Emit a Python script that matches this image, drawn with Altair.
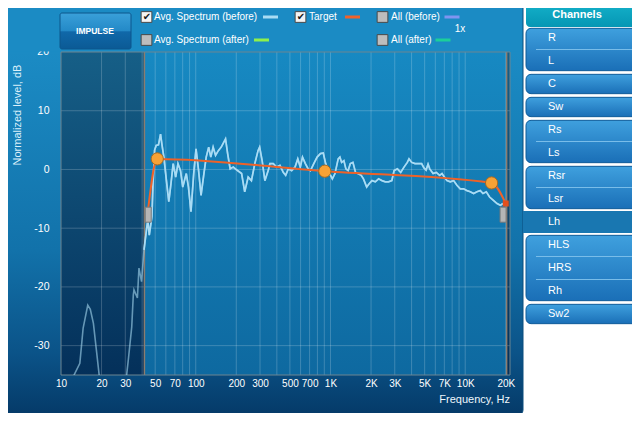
import altair as alt
import pandas as pd

# ---------------- data ----------------
spec_freq = [10, 12.5, 13.8, 14.6, 15.8, 16.5, 17.4, 18.4, 19.2, 20, 30, 30.7, 31.6, 33.5, 34.4, 34.8,
             36.9, 37.9, 39.6, 41.3, 43.2, 44.1, 45.2, 47.3, 48.1, 49.5, 50.9, 52.9, 54.8, 56.0, 58.0,
             60.6, 63.1, 65.5, 68.0, 71.0, 73.8, 77.1, 80.1, 85.1, 88.3, 92.2, 96.6, 100.5, 105, 109.5,
             115, 119.6, 124.8, 129.4, 134.6, 140.3, 147.2, 154.6, 166.4, 172.5, 180, 190, 202, 219,
             231, 245, 259, 274.5, 290, 298, 311, 326, 345, 355, 376, 398, 422, 446, 465, 486, 515,
             546, 572, 597, 620, 651, 683, 710, 752, 796, 843, 884, 921, 975, 1033, 1080, 1141, 1175,
             1210, 1258, 1301, 1352, 1404, 1468, 1535, 1596, 1690, 1757, 1857, 1943, 2033, 2151, 2276,
             2409, 2549, 2697, 2854, 2965, 3138, 3321, 3514, 3719, 3828, 4005, 4238, 4485, 4747, 4930,
             5124, 5300, 5453, 5772, 6108, 6460, 6725, 7000, 7320, 7750, 8200, 8680, 9190, 9730,
             10300, 10900, 11550, 12220, 12940, 13550, 14340, 15170, 16270, 17230, 18250, 19100]
spec_db = [-45, -35, -33, -27, -23.1, -23.8, -26.2, -31.2, -35, -45, -45, -35, -32.4, -26.8, -21.4, -20.5,
           -21.9, -16.8, -19.1, -13.7, -10.1, -8.6, -11.2, -8.0, -2.9, 3.3, 4.1, 4.2, 6.0, 4.4, 2.1,
           -1.9, -5.5, -2.4, 1.0, -1.3, 1.0, -0.2, -3.0, -0.7, -3.0, -7.2, -0.7, 3.5, -0.2, -4.4,
           -0.7, 2.1, 3.8, 2.1, 3.8, 2.4, 3.2, 3.8, 5.2, 2.7, 0.1, 0.4, -0.1, -0.7,
           -3.8, -1.3, -1.9, 1.0, 3.2, 3.8, 1.5, -1.9, -0.2, 1.0, 1.0, 0.4, 0.7, -0.5, -1.0, 0.1, -0.2,
           0.4, 1.8, 0.4, 2.1, 1.0, 0.1, -0.2, 1.0, 2.1, 2.7, 2.8, 1.0, -0.5, -1.6, -0.7, 1.8, 2.1,
           1.2, 1.5, 0.1, -0.2, 1.0, 1.2, -0.5, -0.7, -1.0, -1.6, -3.0, -2.4, -1.9, -2.1, -1.6,
           -1.9, -2.1, -2.1, -1.9, -0.2, 0.1, -0.5, 0.4, 1.2, 1.8, 1.2, 1.0, 1.0, 1.0, 0.3,
           -0.1, 0.9, 0.1, -0.7, -0.5, -1.0, -0.7, -1.3, -1.9, -2.1, -1.9, -2.7, -3.3, -3.3,
           -3.6, -3.8, -4.1, -3.8, -3.6, -4.1, -3.8, -4.7, -5.3, -5.8, -6.1, -5.8]
assert len(spec_freq) == len(spec_db)

target_freq = [44.4, 51.8, 908, 15700, 20000]
target_db = [-6.6, 1.8, -0.3, -2.3, -5.8]
target_marker = [False, True, True, True, False]

handle_freq = [44.4, 19100]
handle_db = [-7.7, -7.7]

shade_from = [10, 20300]
shade_to = [41.6, 21500]

x_labels = [10, 20, 30, 50, 70, 100, 200, 300, 500, 700, 1000, 2000, 3000, 5000, 7000, 10000, 20000]
y_ticks = [-30, -20, -10, 0, 10]
grid_freqs = [m * 10 ** e for e in range(1, 5) for m in range(1, 10) if 10 < m * 10 ** e <= 20000]

channels = ["R", "L", "C", "Sw", "Rs", "Ls", "Rsr", "Lsr", "Lh", "HLS", "HRS", "Rh", "Sw2"]
channel_groups = [["R", "L"], ["C"], ["Sw"], ["Rs", "Ls"], ["Rsr", "Lsr"], ["Lh"], ["HLS", "HRS", "Rh"], ["Sw2"]]
selected_channel = "Lh"

legend_labels = ["Avg. Spectrum (before)", "Target", "All (before)", "Avg. Spectrum (after)", "All (after)"]
legend_checked = [True, True, False, False, False]
legend_colors = ["#a9dcf4", "#f0622a", "#7f95f0", "#8ff04c", "#1ccf9a"]
legend_row = [0, 0, 0, 1, 1]
legend_col = [0, 1, 2, 0, 2]

# ---------------- layout ----------------
W, H = 449, 323
XDOM = [10, 21500]
YDOM = [-35, 20]
FONT = "Liberation Sans"
xs = alt.Scale(type="log", domain=XDOM, nice=False)
ys = alt.Scale(domain=YDOM, nice=False, zero=False)


def lgrad(stops):
    return alt.LinearGradient(gradient="linear", x1=0, y1=0, x2=0, y2=1,
                              stops=[alt.GradientStop(offset=o, color=c) for o, c in stops])


one = pd.DataFrame({"k": [0]})
PANEL_TOP = "#1b8bc4"

panel = alt.Chart(one).mark_rect(
    fill=lgrad([(0, PANEL_TOP), (0.12, PANEL_TOP), (0.6, "#1272aa"), (0.85, "#0b5388"), (1, "#053a68")]),
    stroke="#0b4d7d", strokeWidth=1, cornerRadius=5
).encode(x=alt.value(-58), x2=alt.value(462), y=alt.value(-49), y2=alt.value(363))

plot_bg = alt.Chart(one).mark_rect(fill=lgrad([(0, "#1789c2"), (1, "#0e69a0")])).encode(
    x=alt.value(0), x2=alt.value(W), y=alt.value(0), y2=alt.value(H))

shade_df = pd.DataFrame({"f0": shade_from, "f1": shade_to})
shade = alt.Chart(shade_df).mark_rect(fill=lgrad([(0, "#165f87"), (1, "#04305a")])).encode(
    x=alt.X("f0:Q", scale=xs, axis=None), x2="f1:Q", y=alt.value(0), y2=alt.value(H))
shade_edge = alt.Chart(pd.DataFrame({"f": [shade_to[0], shade_from[1]]})).mark_rule(
    color="#8b7d70", strokeWidth=1.5).encode(
    x=alt.X("f:Q", scale=xs, axis=None), y=alt.value(0), y2=alt.value(H))

xgrid = alt.Chart(pd.DataFrame({"f": grid_freqs})).mark_rule(color="white", opacity=0.2, strokeWidth=1).encode(
    x=alt.X("f:Q", scale=xs, axis=alt.Axis(
        values=x_labels, labelExpr="datum.value >= 1000 ? (datum.value / 1000) + 'K' : datum.value + ''",
        grid=False, ticks=False, tickSize=0, domain=False, labelColor="white", labelFont=FONT,
        labelFontSize=10, labelPadding=3, labelFlush=False, labelOverlap=False, title=None, zindex=1)),
    y=alt.value(0), y2=alt.value(H))

ygrid = alt.Chart(pd.DataFrame({"v": y_ticks})).mark_rule(color="white", opacity=0.2, strokeWidth=1).encode(
    y=alt.Y("v:Q", scale=ys, axis=alt.Axis(
        values=y_ticks, labelExpr="datum.value + ''", grid=False, ticks=False, tickSize=0, domain=False,
        labelColor="white", labelFont=FONT, labelFontSize=10.5, labelPadding=12, title=None, zindex=1)),
    x=alt.value(0), x2=alt.value(W))

border = alt.Chart(one).mark_rect(fillOpacity=0, stroke="#6d8591", strokeWidth=1).encode(
    x=alt.value(0), x2=alt.value(W), y=alt.value(0), y2=alt.value(H))

spec_df = pd.DataFrame({"freq": spec_freq, "db": spec_db})
spec_enc = dict(x=alt.X("freq:Q", scale=xs, axis=None), y=alt.Y("db:Q", scale=ys, axis=None))
spec_dim = alt.Chart(spec_df).mark_line(clip=True, color="#a6d8f0", strokeWidth=1.6, opacity=0.6).encode(**spec_enc)
spec_bright = alt.Chart(spec_df).transform_filter("datum.freq >= 41").mark_line(
    clip=True, color="#a9dcf5", strokeWidth=1.7).encode(**spec_enc)

target_df = pd.DataFrame({"freq": target_freq, "db": target_db, "marker": target_marker})
t_enc = dict(x=alt.X("freq:Q", scale=xs, axis=None), y=alt.Y("db:Q", scale=ys, axis=None))
target_line = alt.Chart(target_df).mark_line(color="#ef6228", strokeWidth=2, interpolate="monotone").encode(**t_enc)
target_pts = alt.Chart(target_df).transform_filter("datum.marker").mark_point(
    shape="circle", filled=True, fill="#f7a235", stroke="#a86a22", strokeWidth=1, size=150, opacity=1
).encode(**t_enc)
target_end = alt.Chart(target_df).transform_filter(f"datum.freq == {target_freq[-1]}").mark_square(
    size=36, color="#e24f1d", opacity=1).encode(**t_enc)

handle_df = pd.DataFrame({"freq": handle_freq, "db": handle_db})
handles = alt.Chart(handle_df).mark_point(
    shape="M-0.4,-1L0.4,-1L0.4,1L-0.4,1Z", filled=True, fill="#b5b5b5", stroke="#7a7a7a",
    strokeWidth=1, size=225, opacity=1).encode(**t_enc)

y20 = alt.Chart(one).mark_text(font=FONT, fontSize=10.5, color="white", align="right", baseline="middle").encode(
    x=alt.value(-12), y=alt.Y(datum=20, scale=ys, axis=None), text=alt.value("20"))
cover = alt.Chart(one).mark_rect(fill=PANEL_TOP).encode(
    x=alt.value(-52), x2=alt.value(461), y=alt.value(-47), y2=alt.value(-0.5))

ytitle = alt.Chart(one).mark_text(font=FONT, fontSize=11, color="#dcf0fa", angle=270, align="center",
                                  baseline="middle").encode(
    x=alt.value(-43), y=alt.value(63), text=alt.value("Normalized level, dB"))
xtitle = alt.Chart(one).mark_text(font=FONT, fontSize=11, color="#eef7fc", align="right",
                                  baseline="middle").encode(
    x=alt.value(449), y=alt.value(348), text=alt.value("Frequency, Hz"))

# IMPULSE button
button = alt.Chart(one).mark_rect(
    fill=lgrad([(0, "#3aa0d9"), (0.5, "#2389c7"), (0.52, "#1068a9"), (1, "#0b5a95")]),
    stroke="#0c568c", strokeWidth=1, cornerRadius=2).encode(
    x=alt.value(-1), x2=alt.value(70), y=alt.value(-39), y2=alt.value(-3))
button_txt = alt.Chart(one).mark_text(font=FONT, fontSize=8.5, fontWeight="bold", color="white",
                                      align="center", baseline="middle").encode(
    x=alt.value(34), y=alt.value(-21), text=alt.value("IMPULSE"))

# legend / checkboxes
leg_df = pd.DataFrame({"label": legend_labels, "checked": legend_checked, "color": legend_colors,
                       "row": legend_row, "col": legend_col, "slot": list(range(len(legend_labels)))})
row_scale = alt.Scale(domain=[0, 1], range=[-35, -12])
box = alt.Chart(leg_df).mark_point(shape="square", filled=True, size=115, stroke="#4a4a4a",
                                   strokeWidth=1, opacity=1).encode(
    x=alt.X("col:Q", scale=alt.Scale(domain=[0, 1, 2], range=[85.5, 239.5, 321.5]), axis=None),
    y=alt.Y("row:Q", scale=row_scale, axis=None),
    fill=alt.condition("datum.checked", alt.value("#f4f4f4"), alt.value("#bdbdbd")))
check = alt.Chart(leg_df).transform_filter("datum.checked").mark_text(
    font="DejaVu Sans", fontSize=10, color="#1a1a1a", align="center", baseline="middle").encode(
    x=alt.X("col:Q", scale=alt.Scale(domain=[0, 1, 2], range=[86, 240, 322]), axis=None),
    y=alt.Y("row:Q", scale=row_scale, axis=None), text=alt.value("\u2714"))
leg_txt = alt.Chart(leg_df).mark_text(font=FONT, fontSize=10, color="white", align="left",
                                      baseline="middle").encode(
    x=alt.X("col:Q", scale=alt.Scale(domain=[0, 1, 2], range=[93, 248, 330]), axis=None),
    y=alt.Y("row:Q", scale=row_scale, axis=None), text="label:N")
swatch = alt.Chart(leg_df).mark_point(shape="M-1,-0.2L1,-0.2L1,0.2L-1,0.2Z", filled=True, size=225,
                                      opacity=1).encode(
    x=alt.X("slot:Q", scale=alt.Scale(domain=[0, 1, 2, 3, 4], range=[209.5, 291.5, 391, 200.5, 382]),
            axis=None),
    y=alt.Y("row:Q", scale=row_scale, axis=None),
    color=alt.Color("color:N", scale=None))
onex = alt.Chart(one).mark_text(font=FONT, fontSize=10, color="white", align="center",
                                baseline="middle").encode(
    x=alt.value(399), y=alt.value(-23), text=alt.value("1x"))

# channels panel
ch_scale = alt.Scale(domain=[0, len(channels) - 1], range=[-14, 262])
grp_rows, sep_rows = [], []
for g in channel_groups:
    s, e = channels.index(g[0]), channels.index(g[-1])
    grp_rows.append({"start": s, "end": e, "sel": selected_channel in g})
    for i in range(s, e):
        sep_rows.append({"pos": i + 0.5})
grp_df = pd.DataFrame(grp_rows)
sep_df = pd.DataFrame(sep_rows)
ch_df = pd.DataFrame({"name": channels, "idx": list(range(len(channels)))})

sel_band = alt.Chart(grp_df).transform_filter("datum.sel").transform_calculate(
    y0="datum.start - 0.48", y1="datum.end + 0.48").mark_rect(fill="#1977b1").encode(
    x=alt.value(462), x2=alt.value(585), y=alt.Y("y0:Q", scale=ch_scale, axis=None), y2="y1:Q")
grp_rect = alt.Chart(grp_df).transform_filter("!datum.sel").transform_calculate(
    y0="datum.start - 0.42", y1="datum.end + 0.42").mark_rect(
    fill=lgrad([(0, "#3fa0de"), (1, "#1a6fb7")]), stroke="#0f5c99", strokeWidth=1, cornerRadius=5).encode(
    x=alt.value(465), x2=alt.value(590), y=alt.Y("y0:Q", scale=ch_scale, axis=None), y2="y1:Q")
seps = alt.Chart(sep_df).mark_rule(color="#79bde9", strokeWidth=1).encode(
    x=alt.value(475), x2=alt.value(590), y=alt.Y("pos:Q", scale=ch_scale, axis=None))
ch_txt = alt.Chart(ch_df).mark_text(font=FONT, fontSize=11, color="white", align="left",
                                    baseline="middle").encode(
    x=alt.value(487), y=alt.Y("idx:Q", scale=ch_scale, axis=None), text="name:N")
header = alt.Chart(one).mark_rect(fill=lgrad([(0, "#14b2ca"), (1, "#0696b4")]), cornerRadius=4).encode(
    x=alt.value(465), x2=alt.value(590), y=alt.value(-50), y2=alt.value(-25))
header_txt = alt.Chart(one).mark_text(font=FONT, fontSize=11, fontWeight="bold", color="white",
                                      align="center", baseline="middle").encode(
    x=alt.value(516), y=alt.value(-37), text=alt.value("Channels"))

chart = alt.layer(
    panel, y20, cover, plot_bg, shade, xgrid, ygrid, shade_edge, border,
    spec_dim, spec_bright, target_line, handles, target_pts, target_end,
    ytitle, xtitle, button, button_txt, box, check, leg_txt, swatch, onex,
    sel_band, grp_rect, seps, ch_txt, header, header_txt
).resolve_scale(x="independent", y="independent", color="independent", fill="independent").properties(
    width=W, height=H,
    padding={"left": 53, "top": 44, "right": 122, "bottom": 38},
    autosize=alt.AutoSizeParams(type="none"),
    background="white"
).configure_view(stroke=None)

chart.save("out.html", embed_options={"renderer": "svg", "actions": False})
